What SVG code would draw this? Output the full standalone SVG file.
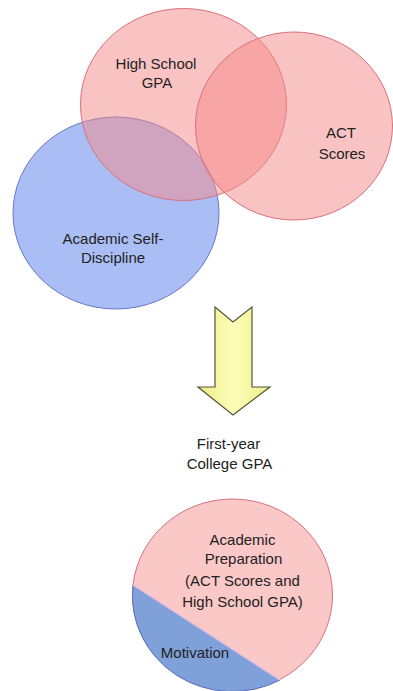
<svg xmlns="http://www.w3.org/2000/svg" width="393" height="691" viewBox="0 0 393 691">
<defs>
<linearGradient id="yel" x1="0" y1="0" x2="1" y2="0">
<stop offset="0" stop-color="#eeee88"/>
<stop offset="0.5" stop-color="#fdfdb8"/>
<stop offset="1" stop-color="#eeee88"/>
</linearGradient>
<style>
text{font-family:"Liberation Sans",Arial,sans-serif;font-size:15px;fill:#222;text-anchor:middle}
.pink{fill:rgb(245,135,135);fill-opacity:0.5;stroke:#d9707a;stroke-width:1}
.blue{fill:#aabef5;stroke:#6677c8;stroke-width:1}
</style>
</defs>
<rect width="393" height="691" fill="#ffffff"/>
<g id="self-discipline">
<ellipse class="blue" cx="116" cy="213" rx="103" ry="96"/>
</g>
<g id="hs-gpa">
<ellipse class="pink" cx="183.5" cy="104.5" rx="103" ry="96"/>
</g>
<g id="act">
<ellipse class="pink" cx="294" cy="126" rx="98.5" ry="94"/>
</g>
<g id="labels-top">
<text x="156" y="69">High School</text>
<text x="157" y="88">GPA</text>
<text x="341" y="138">ACT</text>
<text x="342" y="159">Scores</text>
<text x="113" y="244">Academic Self-</text>
<text x="113" y="263">Discipline</text>
</g>
<g id="connectors">
<path d="M215,307 L233,322 L252,307 L252,387 L270,387 L233,415 L198,387 L215,387 Z" fill="url(#yel)" stroke="#55553a" stroke-width="1.2" stroke-linejoin="miter"/>
</g>
<g id="first-year">
<text x="228.5" y="449">First-year</text>
<text x="229.5" y="469">College GPA</text>
</g>
<g id="pie">
<ellipse cx="232.5" cy="595" rx="100" ry="96" fill="#fbc8c8" stroke="#d9707a" stroke-width="1"/>
<path d="M133,585 A100,96 0 0 0 280,680 Z" fill="#7fa0d8" stroke="#5a6fc0" stroke-width="1"/>
<line x1="133" y1="585" x2="280" y2="680" stroke="#f2c8e0" stroke-width="1.2"/>
<text x="242.5" y="545">Academic</text>
<text x="243.5" y="564">Preparation</text>
<text x="242.5" y="586">(ACT Scores and</text>
<text x="242.5" y="607">High School GPA)</text>
<text x="195" y="658">Motivation</text>
</g>
</svg>
